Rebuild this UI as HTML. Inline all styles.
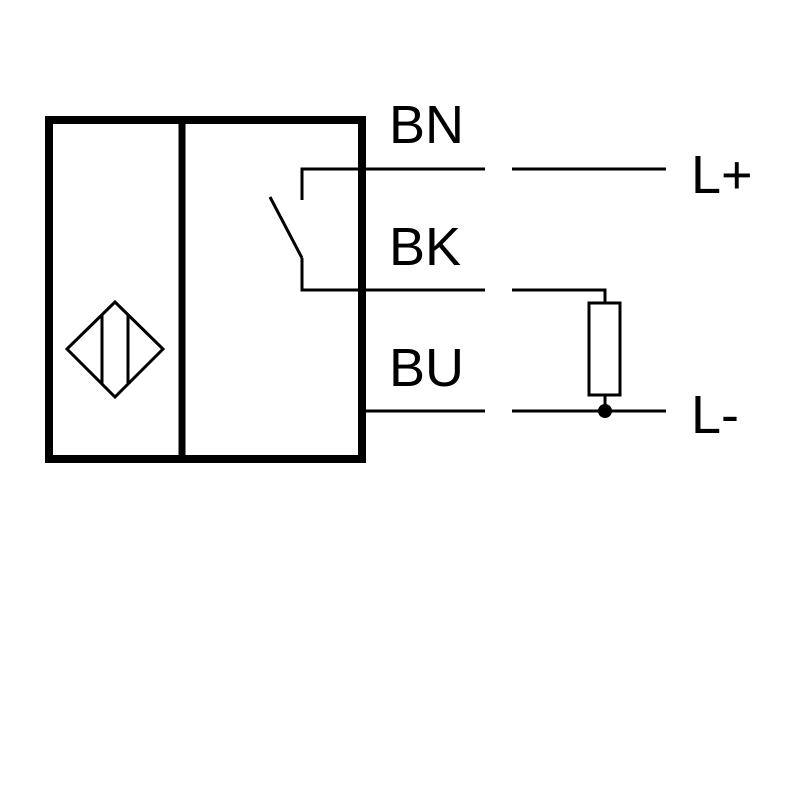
<!DOCTYPE html>
<html><head><style>html,body{margin:0;padding:0;background:#fff} text{font-family:"Liberation Sans",Arial,sans-serif}</style></head>
<body>
<svg width="800" height="800" viewBox="0 0 800 800" xmlns="http://www.w3.org/2000/svg">
<rect width="800" height="800" fill="#fff"/>
<rect x="49" y="120" width="313" height="339" fill="none" stroke="#000" stroke-width="8"/>
<line x1="182" y1="120" x2="182" y2="459" stroke="#000" stroke-width="7"/>
<g fill="none" stroke="#000" stroke-width="3">
<polygon points="67,349 115,302 163,349 115,397"/>
<line x1="102" y1="315" x2="102" y2="384"/>
<line x1="128" y1="315" x2="128" y2="384"/>
<polyline points="302,200 302,169 485,169"/>
<line x1="512" y1="169" x2="666" y2="169"/>
<line x1="270" y1="197" x2="302" y2="258"/>
<polyline points="302,258 302,290 485,290"/>
<polyline points="512,290 605,290 605,303"/>
<rect x="589" y="303" width="31" height="92"/>
<line x1="605" y1="395" x2="605" y2="411"/>
<line x1="362" y1="411" x2="485" y2="411"/>
<line x1="512" y1="411" x2="666" y2="411"/>
</g>
<circle cx="605" cy="411" r="7" fill="#000"/>
<g font-size="54" fill="#000">
<text x="389" y="143">BN</text>
<text x="389" y="265">BK</text>
<text x="389" y="386">BU</text>
<text x="691" y="193">L+</text>
<text x="691" y="433">L-</text>
</g>
</svg>
</body></html>
